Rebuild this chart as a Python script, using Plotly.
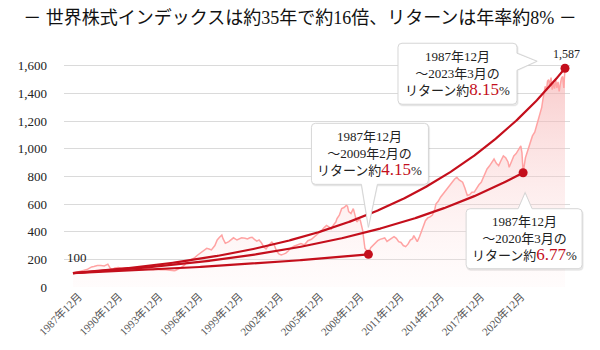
import plotly.graph_objects as go

# World equity index in yen terms, Dec 1987 = 100
dates = [
    "1987-12", "1988-03", "1988-06", "1988-09", "1988-12", "1989-02", "1989-04", "1989-06", "1989-09", "1989-12",
    "1990-03", "1990-06", "1990-08", "1990-10", "1990-12", "1991-03", "1991-06", "1991-09", "1991-12", "1992-03",
    "1992-06", "1992-09", "1992-12", "1993-03", "1993-06", "1993-09", "1993-12", "1994-03", "1994-06", "1994-09",
    "1994-12", "1995-03", "1995-04", "1995-06", "1995-09", "1995-12", "1996-02", "1996-05", "1996-08", "1996-11",
    "1997-01", "1997-04", "1997-07", "1997-09", "1997-11", "1998-02", "1998-04", "1998-06", "1998-08", "1998-09",
    "1998-11", "1999-02", "1999-04", "1999-06", "1999-09", "1999-11", "2000-01", "2000-04", "2000-06", "2000-08",
    "2000-10", "2000-12", "2001-02", "2001-04", "2001-06", "2001-08", "2001-10", "2001-12", "2002-03", "2002-05",
    "2002-07", "2002-09", "2002-11", "2003-01", "2003-03", "2003-05", "2003-07", "2003-10", "2004-01", "2004-04",
    "2004-07", "2004-10", "2005-01", "2005-04", "2005-07", "2005-10", "2005-12", "2006-02", "2006-04", "2006-06",
    "2006-08", "2006-10", "2006-11", "2007-01", "2007-03", "2007-05", "2007-07", "2007-08", "2007-09", "2007-11",
    "2008-01", "2008-02", "2008-04", "2008-06", "2008-07", "2008-09", "2008-10", "2008-11", "2008-12", "2009-01",
    "2009-02", "2009-04", "2009-06", "2009-08", "2009-10", "2009-12", "2010-02", "2010-04", "2010-06", "2010-08",
    "2010-10", "2010-12", "2011-02", "2011-04", "2011-06", "2011-08", "2011-10", "2011-12", "2012-02", "2012-04",
    "2012-05", "2012-07", "2012-08", "2012-10", "2012-12", "2013-02", "2013-03", "2013-05", "2013-07", "2013-09",
    "2013-11", "2013-12", "2014-02", "2014-04", "2014-06", "2014-07", "2014-09", "2014-11", "2015-01", "2015-02",
    "2015-04", "2015-06", "2015-08", "2015-10", "2015-11", "2016-01", "2016-02", "2016-03", "2016-05", "2016-07",
    "2016-09", "2016-11", "2017-01", "2017-03", "2017-05", "2017-07", "2017-08", "2017-10", "2017-12", "2018-02",
    "2018-04", "2018-06", "2018-08", "2018-10", "2018-12", "2019-02", "2019-03", "2019-05", "2019-07", "2019-09",
    "2019-11", "2020-01", "2020-02", "2020-03", "2020-05", "2020-07", "2020-09", "2020-11", "2021-01", "2021-03",
    "2021-05", "2021-07", "2021-08", "2021-09", "2021-10", "2021-11", "2021-12", "2022-01", "2022-02", "2022-03",
    "2022-04", "2022-05", "2022-06", "2022-07", "2022-08", "2022-09", "2022-10", "2022-11", "2022-12", "2023-01",
    "2023-02", "2023-03",
]
values = [
    100, 108, 113, 120, 126, 136, 145, 148, 155, 156,
    152, 165, 136, 128, 138, 141, 136, 138, 131, 135,
    131, 128, 126, 130, 127, 125, 129, 125, 127, 123,
    121, 118, 120, 128, 140, 160, 184, 196, 208, 230,
    244, 262, 280, 275, 268, 300, 340, 360, 375, 350,
    316, 328, 345, 356, 340, 350, 356, 352, 348, 356,
    360, 345, 332, 340, 320, 290, 275, 300, 325, 305,
    260, 240, 232, 238, 245, 260, 280, 295, 305, 315,
    305, 335, 345, 365, 385, 410, 430, 445, 435, 420,
    450, 470, 495, 520, 567, 575, 590, 585, 545, 531,
    567, 530, 471, 490, 483, 411, 320, 280, 268, 255,
    237, 285, 304, 320, 335, 345, 352, 355, 330, 340,
    350, 364, 352, 328, 322, 300, 292, 310, 340, 350,
    372, 345, 328, 365, 415, 455, 480, 500, 507, 520,
    560, 600, 620, 650, 670, 687, 700, 725, 745, 758,
    780, 794, 775, 765, 758, 715, 685, 662, 668, 685,
    687, 715, 740, 758, 795, 830, 854, 875, 900, 926,
    895, 878, 915, 949, 935, 905, 866, 905, 949, 965,
    997, 1021, 970, 827, 935, 990, 1040, 1093, 1120, 1185,
    1236, 1300, 1356, 1400, 1452, 1420, 1490, 1500, 1455, 1515,
    1428, 1480, 1435, 1500, 1440, 1485, 1416, 1470, 1510, 1523,
    1440, 1587,
]

# Annualised returns from Dec 1987 to each end month
period_ends = ["2009-02", "2020-03", "2023-03"]
annual_returns = [4.15, 6.77, 8.15]

tick_labels = [
    "1987年12月", "1990年12月", "1993年12月", "1996年12月", "1999年12月", "2002年12月",
    "2005年12月", "2008年12月", "2011年12月", "2014年12月", "2017年12月", "2020年12月",
]

TITLE = "－ 世界株式インデックスは約35年で約16倍、リターンは年率約8% －"

SERIF = "'Liberation Serif', 'Noto Sans CJK JP', serif"
RED = "#c40f1c"
PINK = "#ffa3a3"
GRID = "#dadada"

X_RANGE = [-7.7, 427.3]
Y_RANGE = [0, 1780]
TICK_OFFSET = 5
TICK_STEP = 34.6


def month_index(d):
    y, m = map(int, d.split("-"))
    return (y - 1987) * 12 + m - 12


def jp_month(d):
    y, m = map(int, d.split("-"))
    return f"{y}年{m}月"


xs = [month_index(d) for d in dates]

fig = go.Figure()

# index line with gradient fill
fig.add_trace(go.Scatter(
    x=xs, y=values, mode="lines",
    line=dict(color=PINK, width=1.5),
    fill="tozeroy",
    fillgradient=dict(
        type="vertical", start=0, stop=1600,
        colorscale=[[0, "rgba(255,235,235,0.15)"], [1, "rgba(244,165,165,0.6)"]],
    ),
    hoverinfo="skip", showlegend=False,
))

# compound-growth curves for each period
for end, r in zip(period_ends, annual_returns):
    n = month_index(end)
    cx = list(range(0, n + 1))
    cy = [100 * (1 + r / 100) ** (m / 12) for m in cx]
    fig.add_trace(go.Scatter(
        x=cx, y=cy, mode="lines", line=dict(color=RED, width=2.2),
        hoverinfo="skip", showlegend=False,
    ))
for end, r in zip(period_ends, annual_returns):
    n = month_index(end)
    fig.add_trace(go.Scatter(
        x=[n], y=[100 * (1 + r / 100) ** (n / 12)], mode="markers",
        marker=dict(color=RED, size=9), cliponaxis=False,
        hoverinfo="skip", showlegend=False,
    ))


def box_path(x0, x1, yb, yt, r, tail):
    side, a, b, tx, ty = tail
    p = [f"M{x0 + r},{yt}"]
    if side == "top":
        p += [f"L{a},{yt}", f"L{tx},{ty}", f"L{b},{yt}"]
    p += [f"L{x1 - r},{yt}", f"Q{x1},{yt} {x1},{yt - r}"]
    if side == "right":
        p += [f"L{x1},{a}", f"L{tx},{ty}", f"L{x1},{b}"]
    p += [f"L{x1},{yb + r}", f"Q{x1},{yb} {x1 - r},{yb}"]
    if side == "bottom":
        p += [f"L{b},{yb}", f"L{tx},{ty}", f"L{a},{yb}"]
    p += [f"L{x0 + r},{yb}", f"Q{x0},{yb} {x0},{yb + r}",
          f"L{x0},{yt - r}", f"Q{x0},{yt} {x0 + r},{yt}", "Z"]
    return " ".join(p)


def to_paper(m, v):
    return (m - X_RANGE[0]) / (X_RANGE[1] - X_RANGE[0]), v / Y_RANGE[1]


# callout geometry in pixels relative to each curve's end point (y up)
callouts = {
    8.15: dict(box=(-167, -48, -36, 25), tail=("right", 15, -2, -28, 7)),
    4.15: dict(box=(-57, 60, 70, 131), tail=("bottom", -7, 9, 0, 27)),
    6.77: dict(box=(-57, 59, -96, -36), tail=("top", -5, 9, 2, -20)),
}

shapes = []
annotations = []
start_label = jp_month(dates[0])
for end, r in zip(period_ends, annual_returns):
    n = month_index(end)
    v = 100 * (1 + r / 100) ** (n / 12)
    px, py = to_paper(n, v)
    geo = callouts[r]
    x0, x1, yb, yt = geo["box"]
    path = box_path(x0, x1, yb, yt, 4, geo["tail"])
    shadow = box_path(x0 + 1, x1 + 1, yb - 1.5, yt - 1.5, 4, geo["tail"])
    common = dict(type="path", xref="paper", yref="paper", xsizemode="pixel",
                  ysizemode="pixel", xanchor=px, yanchor=py, layer="above")
    shapes.append(dict(path=shadow, fillcolor="rgba(0,0,0,0.07)",
                       line=dict(color="rgba(0,0,0,0.05)", width=1.5), **common))
    shapes.append(dict(path=path, fillcolor="white",
                       line=dict(color="#d6d6d6", width=1), **common))
    text = (f"{start_label}<br>～{jp_month(end)}の<br>リターン約"
            f"<span style='color:{RED};font-size:17px'>{r:.2f}</span>%")
    annotations.append(dict(
        x=n, y=v, xref="x", yref="y", text=text, showarrow=False,
        xshift=(x0 + x1) / 2, yshift=(yb + yt) / 2,
        font=dict(family=SERIF, size=13, color="#222"), align="center",
    ))

# start and end values
annotations.append(dict(x=xs[0], y=values[0], xref="x", yref="y", text=f"{values[0]:,}",
                        showarrow=False, xshift=4, yshift=16,
                        font=dict(family=SERIF, size=13, color="#222")))
annotations.append(dict(x=xs[-1], y=values[-1], xref="x", yref="y", text=f"{values[-1]:,}",
                        showarrow=False, xshift=1, yshift=14,
                        font=dict(family=SERIF, size=12, color="#222")))

fig.update_layout(
    width=600, height=350,
    margin=dict(l=64, r=30, t=41, b=61),
    paper_bgcolor="white", plot_bgcolor="white",
    title=dict(text=TITLE, x=0.5, xref="container", y=1 - 18 / 350, yref="container",
               xanchor="center", yanchor="middle",
               font=dict(family=SERIF, size=18, color="#111")),
    xaxis=dict(range=X_RANGE, showgrid=False, zeroline=False, showline=False,
               tickvals=[TICK_OFFSET + i * TICK_STEP for i in range(len(tick_labels))],
               ticktext=tick_labels, tickangle=-45,
               tickfont=dict(family=SERIF, size=11, color="#555")),
    yaxis=dict(range=Y_RANGE, tickvals=list(range(0, 1601, 200)), tickformat=",d",
               showgrid=True, gridcolor=GRID, gridwidth=1, zeroline=False, showline=False,
               ticklabelstandoff=16,
               tickfont=dict(family=SERIF, size=13, color="#222")),
    shapes=shapes, annotations=annotations,
)

fig.write_html("out.html")
